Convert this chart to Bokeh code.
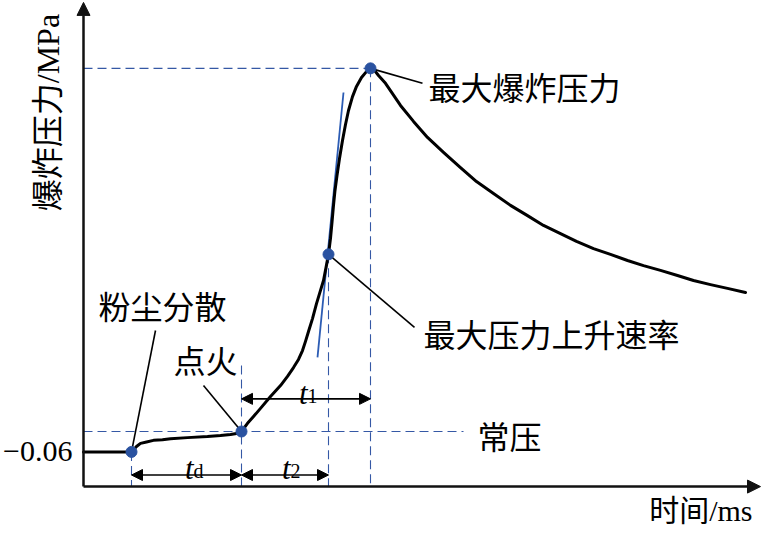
import numpy as np
from bokeh.plotting import figure
from bokeh.models import Range1d, Arrow, NormalHead, ColumnDataSource
from bokeh.core.properties import value
from bokeh.embed import file_html
from bokeh.resources import INLINE

# ---------------- data (time in ms, pressure in MPa) ----------------
time_ms = [0, 48, 53, 57, 63, 70, 79, 87, 104, 124, 137, 147, 153, 158,
           164, 170, 177, 187, 197, 204, 210, 215, 219, 222, 225, 229, 233,
           237, 240, 242.5, 245, 247, 248.5, 250, 251.5, 253.5, 256, 259,
           262, 265, 269, 273, 278, 282.5, 287, 291, 295, 302, 309, 317,
           330, 344, 360, 377, 393, 410, 427, 444, 460, 477, 493, 510, 527,
           544, 560, 577, 594, 610, 627, 644, 662]
pressure = [-0.06, -0.06, -0.044, -0.035, -0.031, -0.026, -0.024, -0.021,
            -0.018, -0.015, -0.012, -0.009, -0.006, 0.0,
            0.024, 0.044, 0.068, 0.103, 0.135, 0.162, 0.188, 0.212, 0.238,
            0.265, 0.294, 0.332, 0.376, 0.415, 0.444, 0.482, 0.521, 0.568,
            0.615, 0.665, 0.709, 0.753, 0.803, 0.856, 0.903, 0.944, 0.985,
            1.015, 1.041, 1.057, 1.068, 1.062, 1.047, 1.024, 0.994, 0.959,
            0.912, 0.865, 0.821, 0.776, 0.735, 0.700, 0.665, 0.635, 0.606,
            0.582, 0.559, 0.538, 0.521, 0.503, 0.488, 0.474, 0.459, 0.444,
            0.432, 0.421, 0.409]

# key points: dust dispersion, ignition, max rate of rise, max pressure
key_t = [48, 158, 245, 287]
key_p = [-0.06, 0.0, 0.521, 1.068]
key_names = ["粉尘分散", "点火", "最大压力上升速率", "最大爆炸压力"]

# tangent at max rate of pressure rise
tangent_t = [234, 260]
tangent_p = [0.218, 0.997]

# axis origin level and extents
axis_t0 = 0
axis_p0 = -0.162
axis_t_end = 677
axis_p_end = 1.262

# y tick
ytick_values = [-0.06]
ytick_labels = ["−0.06"]

# label anchor points (leader line starts)
leader_t = [72, 120, 331, 339]
leader_p = [0.297, 0.135, 0.306, 1.024]
label_t = [15, 90, 340, 345]
label_p = [0.362, 0.203, 0.282, 1.006]

atm_label = "常压"
atm_label_t = 394
atm_label_p = -0.018
atm_line_end_t = 380
ignite_guide_top = 0.194

# time-span dimension arrows
span_names = ["d", "2", "1"]
span_start = [48, 158, 158]
span_end = [158, 245, 287]
span_p = [-0.128, -0.128, 0.096]
span_label_t = [110, 207, 224]
span_label_p = [-0.109, -0.109, 0.112]
span_sub_p = [-0.116, -0.116, 0.105]

ylabel = "爆炸压力/MPa"
xlabel = "时间/ms"

FONT = "Liberation Serif, Noto Sans CJK SC"
BLUE = "#2a52a0"
DASH_BLUE = "#3558a5"

# ---------------- figure ----------------
p = figure(width=762, height=529, x_range=Range1d(-83, 679),
           y_range=Range1d(-0.2882, 1.2676), min_border=0,
           toolbar_location=None, output_backend="svg",
           x_axis_type=None, y_axis_type=None)
p.outline_line_color = None
p.background_fill_color = "white"
p.border_fill_color = "white"

# dashed guide lines
gx0 = [axis_t0, axis_t0] + key_t
gy0 = [key_p[3], 0.0, key_p[0], ignite_guide_top, key_p[2], key_p[3]]
gx1 = [key_t[3], atm_line_end_t] + key_t
gy1 = [key_p[3], 0.0] + [axis_p0] * 4
p.segment(x0=gx0, y0=gy0, x1=gx1, y1=gy1, line_color=DASH_BLUE,
          line_width=1.1, line_dash="9 5")

# tangent line
p.line(tangent_t, tangent_p, line_color="#2c5cb4", line_width=1.8)

# main curve
p.line(time_ms, pressure, line_color="black", line_width=3,
       line_join="round", line_cap="round")

# leader lines
p.segment(x0=leader_t, y0=leader_p, x1=key_t, y1=key_p,
          line_color="black", line_width=1.6)

# key points
p.scatter(key_t, key_p, size=11, fill_color=BLUE, line_color=BLUE)

# axes with arrows
axis_src = ColumnDataSource(dict(xs=[axis_t0, axis_t0], ys=[axis_p0, axis_p0],
                                 xe=[axis_t0, axis_t_end], ye=[axis_p_end, axis_p0]))
p.add_layout(Arrow(x_start="xs", y_start="ys", x_end="xe", y_end="ye",
                   source=axis_src, line_width=2.5, line_color="#111111",
                   end=NormalHead(size=13, fill_color="#111111",
                                  line_color="#111111")))

# dimension arrows
span_src = ColumnDataSource(dict(xs=span_start, xe=span_end, ys=span_p, ye=span_p))
p.add_layout(Arrow(x_start="xs", y_start="ys", x_end="xe", y_end="ye",
                   source=span_src, line_width=1.6, line_color="black",
                   start=NormalHead(size=11, fill_color="black", line_color="black"),
                   end=NormalHead(size=11, fill_color="black", line_color="black")))

# span labels: italic t with subscript
p.text(x=span_label_t, y=span_label_p, text=["t"] * len(span_names),
       text_font=value(FONT), text_font_size="31px", text_font_style="italic",
       text_align="right", text_baseline="alphabetic", text_color="black")
p.text(x=span_label_t, y=span_sub_p, text=span_names,
       text_font=value(FONT), text_font_size="20px",
       text_align="left", text_baseline="alphabetic", text_color="black")

# key point labels
p.text(x=label_t, y=label_p, text=key_names, text_font=value(FONT),
       text_font_size="32px", text_align="left", text_baseline="middle",
       text_color="black")
p.text(x=[atm_label_t], y=[atm_label_p], text=[atm_label], text_font=value(FONT),
       text_font_size="32px", text_align="left", text_baseline="middle",
       text_color="black")

# y tick label
p.text(x=[axis_t0 - 11] * len(ytick_values), y=ytick_values, text=ytick_labels,
       text_font=value(FONT), text_font_size="30px", text_align="right",
       text_baseline="middle", text_color="black")

# axis titles
p.text(x=[-36], y=[0.938], text=[ylabel], angle=np.pi / 2,
       text_font=value(FONT), text_font_size="32px", text_align="center",
       text_baseline="middle", text_color="black")
p.text(x=[669], y=[-0.232], text=[xlabel], text_font=value(FONT),
       text_font_size="30px", text_align="right", text_baseline="middle",
       text_color="black")

open("out.html", "w").write(file_html(p, INLINE))
